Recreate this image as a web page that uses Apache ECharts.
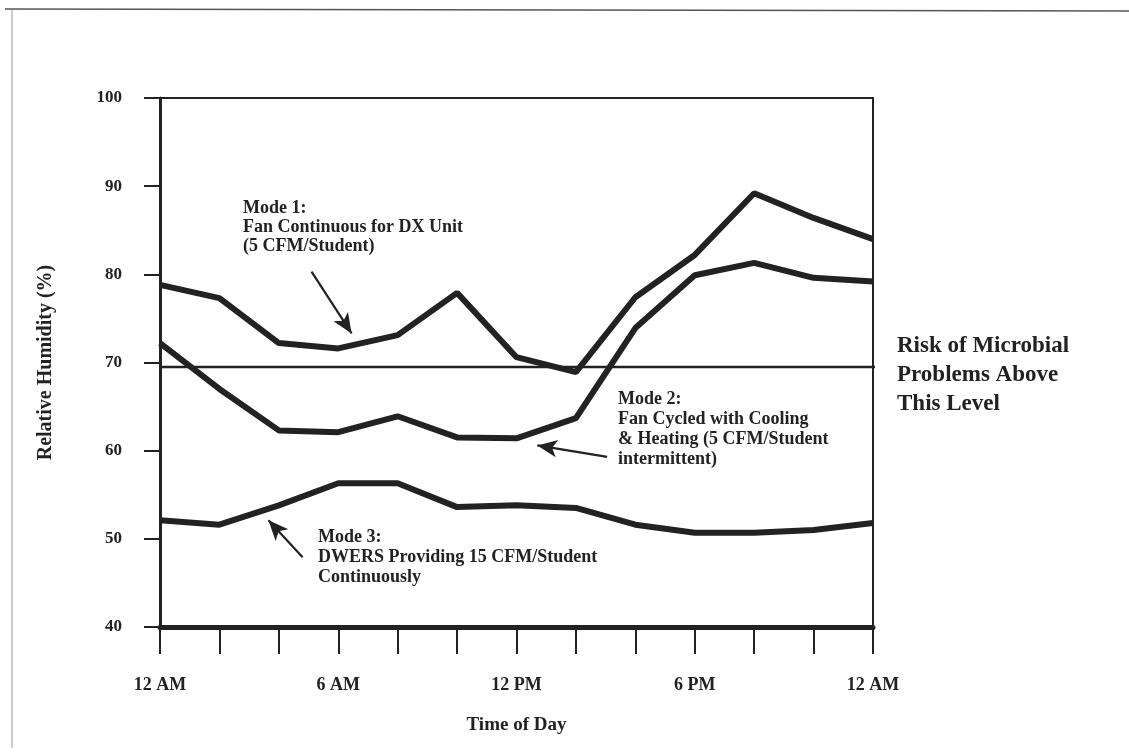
<!DOCTYPE html>
<html>
<head>
<meta charset="utf-8">
<script src="https://cdn.jsdelivr.net/npm/echarts@6/dist/echarts.min.js"></script>
<style>html,body{margin:0;padding:0;background:#fff}#c{width:1129px;height:755px}</style>
</head>
<body>
<div id="c"></div>
<script>
// Hours of day (0 = 12 AM ... 24 = 12 AM next day)
const hours = [0, 2, 4, 6, 8, 10, 12, 14, 16, 18, 20, 22, 24];
const tickLabels = ['12 AM', '', '', '6 AM', '', '', '12 PM', '', '', '6 PM', '', '', '12 AM'];
const yTicks = [40, 50, 60, 70, 80, 90, 100];

// Relative humidity (%)
const mode1 = [78.8, 77.3, 72.2, 71.6, 73.1, 77.9, 70.6, 68.9, 77.4, 82.2, 89.2, 86.4, 84.0];
const mode2 = [72.2, 67.0, 62.3, 62.1, 63.9, 61.5, 61.4, 63.7, 73.9, 79.9, 81.3, 79.6, 79.2];
const mode3 = [52.1, 51.6, 53.8, 56.3, 56.3, 53.6, 53.8, 53.5, 51.6, 50.7, 50.7, 51.0, 51.8];
const riskLevel = 69.5;

// Annotation arrows in data coordinates [tail, tip]
const arrows = [
  [[5.1, 80.3], [6.45, 73.3]],
  [[15.05, 59.3], [12.7, 60.6]],
  [[4.8, 47.9], [3.65, 52.1]]
];

const font = '"Liberation Serif", "DejaVu Serif", serif';
const ink = '#222';

const chart = echarts.init(document.getElementById('c'));
const mk = v => hours.map((h, i) => [h, v[i]]);

chart.setOption({
  animation: false,
  backgroundColor: '#fff',
  grid: { left: 160, right: 256, top: 98, bottom: 128, show: true, borderColor: ink, borderWidth: 2 },
  xAxis: {
    type: 'value', min: 0, max: 24, interval: 2,
    name: 'Time of Day', nameLocation: 'middle', nameGap: 89,
    nameTextStyle: { fontFamily: font, fontWeight: 'bold', fontSize: 19, color: ink },
    axisLine: { lineStyle: { color: ink, width: 5 } },
    axisTick: { show: true, inside: false, length: 27, lineStyle: { color: ink, width: 2 } },
    axisLabel: {
      margin: 49, fontFamily: font, fontWeight: 'bold', fontSize: 18, color: ink,
      formatter: v => { const i = hours.indexOf(v); return i >= 0 ? tickLabels[i] : ''; }
    },
    splitLine: { show: false }
  },
  yAxis: {
    type: 'value', min: yTicks[0], max: yTicks[yTicks.length - 1], interval: 10,
    name: 'Relative Humidity (%)', nameLocation: 'middle', nameGap: 104,
    nameTextStyle: { fontFamily: font, fontWeight: 'bold', fontSize: 20, color: ink },
    axisLine: { lineStyle: { color: ink, width: 3 } },
    axisTick: { show: true, inside: false, length: 16, lineStyle: { color: ink, width: 2 } },
    axisLabel: { margin: 38, fontFamily: font, fontWeight: 'bold', fontSize: 17, color: ink },
    splitLine: { show: false }
  },
  series: [
    { type: 'line', data: mk(mode1), symbol: 'none', lineStyle: { color: ink, width: 6 } },
    { type: 'line', data: mk(mode2), symbol: 'none', lineStyle: { color: ink, width: 6 } },
    { type: 'line', data: mk(mode3), symbol: 'none', lineStyle: { color: ink, width: 6 } },
    {
      type: 'line', data: [[0, riskLevel], [24.35, riskLevel]], symbol: 'none', clip: false,
      lineStyle: { color: ink, width: 2.5 }
    },
    {
      type: 'line', data: [], symbol: 'none',
      markLine: {
        silent: true, symbol: ['none', 'arrow'], symbolSize: [13, 20],
        label: { show: false },
        lineStyle: { color: ink, width: 2.2, type: 'solid' },
        data: arrows.map(a => [{ coord: a[0] }, { coord: a[1] }])
      }
    }
  ],
  graphic: [
    { type: 'line', shape: { x1: 12, y1: 10, x2: 12, y2: 748 }, style: { stroke: '#999', lineWidth: 1 } },
    { type: 'line', shape: { x1: 5, y1: 9, x2: 1129, y2: 11 }, style: { stroke: '#555', lineWidth: 1.5 } },
    {
      type: 'text', left: 243, top: 199,
      style: { text: 'Mode 1:\nFan Continuous for DX Unit\n(5 CFM/Student)', font: 'bold 18px ' + font, fill: ink, lineHeight: 19 }
    },
    {
      type: 'text', left: 618, top: 389,
      style: { text: 'Mode 2:\nFan Cycled with Cooling\n& Heating (5 CFM/Student\nintermittent)', font: 'bold 18px ' + font, fill: ink, lineHeight: 20 }
    },
    {
      type: 'text', left: 318, top: 527,
      style: { text: 'Mode 3:\nDWERS Providing 15 CFM/Student\nContinuously', font: 'bold 18px ' + font, fill: ink, lineHeight: 20 }
    },
    {
      type: 'text', left: 897, top: 332,
      style: { text: 'Risk of Microbial\nProblems Above\nThis Level', font: 'bold 23px ' + font, fill: ink, lineHeight: 29 }
    }
  ]
});
</script>
</body>
</html>
